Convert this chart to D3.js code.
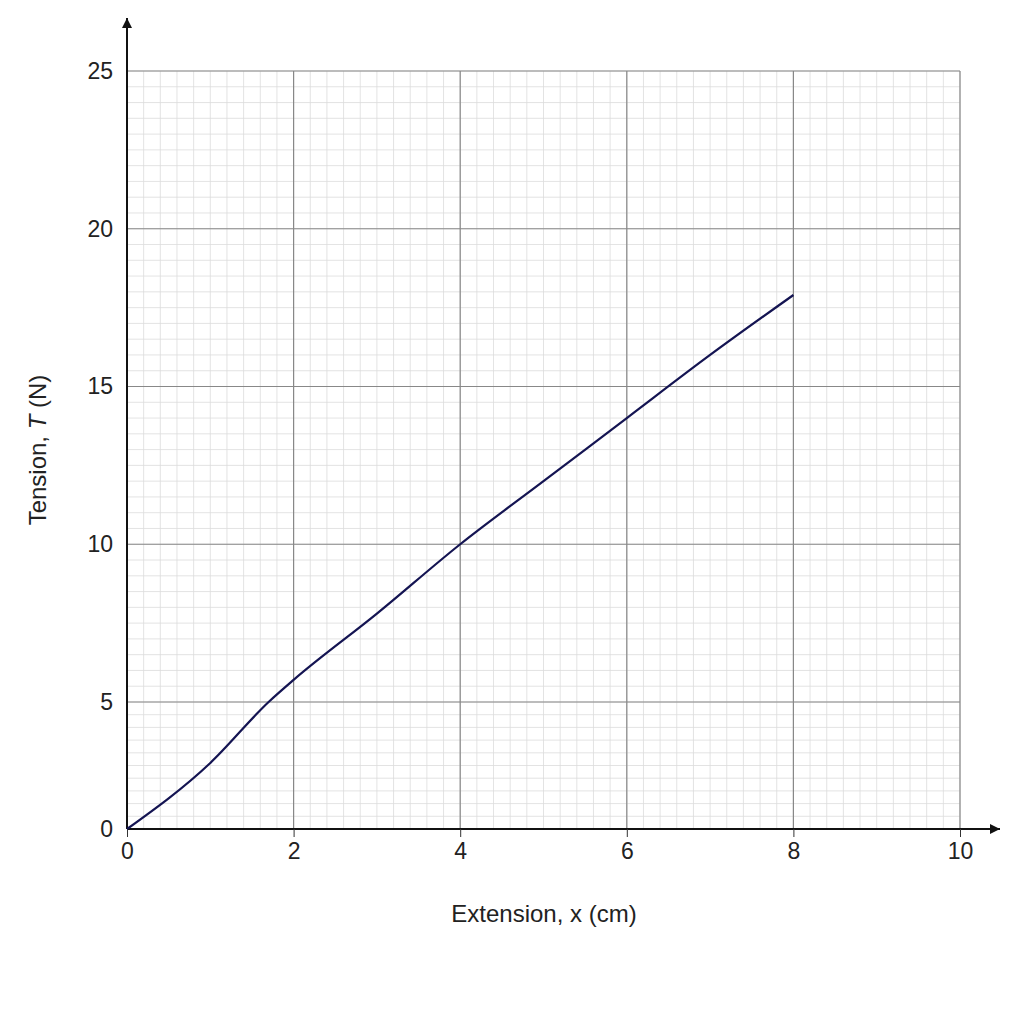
<!DOCTYPE html><html><head><script src="https://cdn.jsdelivr.net/npm/d3@7"></script>
<style>body{margin:0;background:#fff}</style></head><body><svg id="c" width="1024" height="1024"></svg>
<script>
const extension=[0,1,1.7,2,3,4,5,6,7,8];
const tension=[0,2.6,5.0,5.7,7.8,10.0,12.0,14.0,16.0,17.9];
const xTicks=[0,2,4,6,8,10];
const yTicks=[0,5,10,15,20,25];
const svg=d3.select("#c");
const x=d3.scaleLinear().domain([0,10]).range([127,960]);
const y=d3.scaleLinear().domain([0,5,25]).range([829,702,71]);
const g=svg.append("g");
const minorX=d3.range(0,10.001,0.2), minorY=d3.range(0,25.001,0.5);
g.selectAll(".mx").data(minorX).join("line").attr("x1",d=>x(d)).attr("x2",d=>x(d)).attr("y1",y(0)).attr("y2",y(25)).attr("stroke","#dcdcdc").attr("stroke-width",0.8);
g.selectAll(".my").data(minorY).join("line").attr("y1",d=>y(d)).attr("y2",d=>y(d)).attr("x1",x(0)).attr("x2",x(10)).attr("stroke","#dcdcdc").attr("stroke-width",0.8);
g.selectAll(".Mx").data(xTicks).join("line").attr("x1",d=>x(d)).attr("x2",d=>x(d)).attr("y1",y(0)).attr("y2",y(25)).attr("stroke","#888").attr("stroke-width",1.2);
g.selectAll(".My").data(yTicks).join("line").attr("y1",d=>y(d)).attr("y2",d=>y(d)).attr("x1",x(0)).attr("x2",x(10)).attr("stroke","#888").attr("stroke-width",1.2);
svg.append("defs").append("marker").attr("id","a").attr("viewBox","0 0 10 10").attr("refX",10).attr("refY",5).attr("markerWidth",10).attr("markerHeight",10).attr("markerUnits","userSpaceOnUse").attr("orient","auto").append("path").attr("d","M0,0L10,5L0,10Z").attr("fill","#111");
svg.append("line").attr("x1",x(0)).attr("y1",y(0)).attr("x2",1000).attr("y2",y(0)).attr("stroke","#111").attr("stroke-width",2).attr("marker-end","url(#a)");
svg.append("line").attr("x1",x(0)).attr("y1",y(0)).attr("x2",x(0)).attr("y2",18).attr("stroke","#111").attr("stroke-width",2).attr("marker-end","url(#a)");
const xa=svg.append("g").attr("transform",`translate(0,${y(0)})`).call(d3.axisBottom(x).tickValues(xTicks).tickSize(8).tickPadding(6));
const ya=svg.append("g").attr("transform",`translate(${x(0)},0)`).call(d3.axisLeft(y).tickValues(yTicks).tickSize(6).tickPadding(8));
[xa,ya].forEach(a=>{a.select(".domain").remove();a.selectAll("line").attr("stroke","#333");a.selectAll("text").attr("font-family","Liberation Sans, Arial").attr("font-size",23).attr("fill","#222");});
ya.selectAll(".tick line").attr("x2",0);
svg.append("path").datum(extension.map((d,i)=>[d,tension[i]])).attr("d",d3.line().x(d=>x(d[0])).y(d=>y(d[1])).curve(d3.curveMonotoneX)).attr("fill","none").attr("stroke","#141452").attr("stroke-width",2.2);
svg.append("text").attr("x",544).attr("y",922).attr("text-anchor","middle").attr("font-family","Liberation Sans, Arial").attr("font-size",24).attr("fill","#222").text("Extension, x (cm)");
const yl=svg.append("text").attr("transform","translate(46,450) rotate(-90)").attr("text-anchor","middle").attr("font-family","Liberation Sans, Arial").attr("font-size",24).attr("fill","#222");
yl.append("tspan").text("Tension, ");yl.append("tspan").attr("font-style","italic").text("T");yl.append("tspan").text(" (N)");
</script></body></html>
